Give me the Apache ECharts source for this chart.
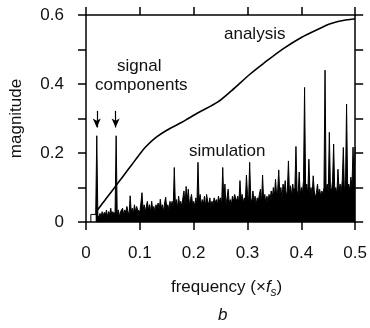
<!DOCTYPE html>
<html>
<head>
<meta charset="utf-8">
<script src="https://cdn.jsdelivr.net/npm/echarts@6/dist/echarts.min.js"></script>
<style>
html,body{margin:0;padding:0;background:#fff;}
#chart{width:370px;height:328px;}
</style>
</head>
<body>
<div id="chart"></div>
<script>
// ---- data ----
var xTicks = [0, 0.1, 0.2, 0.3, 0.4, 0.5];
var yTicks = [0, 0.2, 0.4, 0.6];

// analysis curve
var analysisFreq = [0.019, 0.03, 0.04, 0.055, 0.07, 0.085, 0.1, 0.111, 0.13, 0.15, 0.178, 0.19, 0.21, 0.245, 0.27, 0.305, 0.33, 0.366, 0.4, 0.437, 0.451, 0.47, 0.5];
var analysisMag  = [0.03, 0.053, 0.073, 0.104, 0.135, 0.166, 0.197, 0.218, 0.245, 0.266, 0.289, 0.300, 0.318, 0.348, 0.38, 0.429, 0.46, 0.502, 0.535, 0.563, 0.573, 0.582, 0.589];

// simulation spectrum: bins from 0.018 to 0.5, step 0.002
var simFreqStart = 0.018;
var simFreqStep = 0.002;
var simMag = [
  0.02, 0.25, 0.02, 0.012, 0.025, 0.015, 0.03, 0.018, 0.028, 0.02,
  0.035, 0.015, 0.03, 0.022, 0.04, 0.018, 0.03, 0.02, 0.03, 0.25,
  0.02, 0.035, 0.015, 0.03, 0.025, 0.04, 0.02, 0.035, 0.028, 0.045,
  0.03, 0.02, 0.076, 0.03, 0.04, 0.025, 0.05, 0.03, 0.045, 0.035,
  0.04, 0.03, 0.055, 0.085, 0.035, 0.05, 0.03, 0.045, 0.06, 0.035,
  0.05, 0.03, 0.06, 0.035, 0.045, 0.03, 0.05, 0.04, 0.055, 0.035,
  0.066, 0.04, 0.05, 0.03, 0.055, 0.072, 0.04, 0.05, 0.035, 0.06,
  0.045, 0.06, 0.04, 0.158, 0.05, 0.065, 0.04, 0.075, 0.05, 0.06,
  0.045, 0.07, 0.09, 0.05, 0.103, 0.06, 0.095, 0.05, 0.065, 0.08,
  0.05, 0.06, 0.045, 0.07, 0.05, 0.173, 0.06, 0.08, 0.05, 0.065,
  0.05, 0.075, 0.045, 0.08, 0.06, 0.05, 0.07, 0.045, 0.06, 0.05,
  0.07, 0.055, 0.065, 0.05, 0.075, 0.06, 0.07, 0.05, 0.158, 0.06,
  0.11, 0.05, 0.07, 0.095, 0.055, 0.065, 0.05, 0.075, 0.06, 0.08,
  0.07, 0.06, 0.075, 0.055, 0.12, 0.065, 0.08, 0.055, 0.07, 0.06,
  0.136, 0.08, 0.06, 0.173, 0.07, 0.055, 0.09, 0.06, 0.075, 0.05,
  0.07, 0.06, 0.08, 0.095, 0.055, 0.136, 0.06, 0.08, 0.055, 0.075,
  0.06, 0.08, 0.065, 0.09, 0.07, 0.1, 0.075, 0.124, 0.08, 0.09,
  0.151, 0.08, 0.1, 0.07, 0.11, 0.085, 0.12, 0.075, 0.09, 0.177,
  0.08, 0.105, 0.075, 0.11, 0.085, 0.1, 0.219, 0.09, 0.08, 0.145,
  0.08, 0.1, 0.085, 0.12, 0.39, 0.09, 0.11, 0.08, 0.182, 0.085,
  0.1, 0.075, 0.134, 0.09, 0.07, 0.085, 0.11, 0.08, 0.095, 0.075,
  0.09, 0.08, 0.1, 0.44, 0.09, 0.11, 0.085, 0.26, 0.1, 0.09,
  0.12, 0.226, 0.09, 0.1, 0.08, 0.153, 0.09, 0.11, 0.085, 0.12,
  0.216, 0.09, 0.11, 0.342, 0.1, 0.11, 0.09, 0.13, 0.1, 0.217,
  0.12, 0.217
];
// small step at the start of the simulated spectrum
var simLowFreq = [0.009, 0.009, 0.018];
var simLowMag  = [0, 0.022, 0.022];

// arrows marking the signal components
var componentFreq = [0.02, 0.055];
var arrowTop = 0.322;
var arrowBottom = 0.274;

// ---- build ----
var analysisData = analysisFreq.map(function(f, i){ return [f, analysisMag[i]]; });
var simData = simMag.map(function(m, i){ return [+(simFreqStart + i * simFreqStep).toFixed(4), m]; });
var simLowData = simLowFreq.map(function(f, i){ return [f, simLowMag[i]]; });
var arrowLines = componentFreq.map(function(f){
  return [{coord:[f, arrowTop], symbol:'none'}, {coord:[f, arrowBottom], symbol:'arrow'}];
});

var FONT = '"Liberation Sans", Arial, Helvetica, sans-serif';
var FS = 17;
var axisLineStyle = {color:'#000', width:1.5};
var tickStyle = {color:'#000', width:1.5};

var chart = echarts.init(document.getElementById('chart'), null, {renderer:'canvas'});
chart.setOption({
  animation:false,
  backgroundColor:'#fff',
  grid:{left:86, right:10, top:15, bottom:106},
  xAxis:[{
    type:'value', min:xTicks[0], max:xTicks[xTicks.length-1], interval:0.1,
    axisLine:{show:true, onZero:false, lineStyle:axisLineStyle},
    axisTick:{show:true, length:8, lineStyle:tickStyle},
    splitLine:{show:false},
    axisLabel:{fontSize:FS, color:'#111', fontFamily:FONT, margin:23,
      formatter:function(v){ return String(+v.toFixed(1)); }},
    name:'frequency (×{i|f}{s|s})', nameLocation:'middle', nameGap:53,
    nameTextStyle:{fontSize:FS, color:'#111', fontFamily:FONT, padding:[0,0,0,12],
      rich:{i:{fontSize:FS, fontStyle:'italic', fontFamily:FONT, color:'#111'},
            s:{fontSize:12, fontStyle:'italic', fontFamily:FONT, color:'#111', padding:[12,0,0,0]}}}
  },{
    type:'value', position:'top', min:xTicks[0], max:xTicks[xTicks.length-1], interval:0.1,
    axisLine:{show:true, onZero:false, lineStyle:axisLineStyle},
    axisTick:{show:true, length:8, lineStyle:tickStyle},
    splitLine:{show:false}, axisLabel:{show:false}
  }],
  yAxis:[{
    type:'value', min:yTicks[0], max:yTicks[yTicks.length-1], interval:0.2,
    axisLine:{show:true, onZero:false, lineStyle:axisLineStyle},
    axisTick:{show:true, length:8, lineStyle:tickStyle},
    minorTick:{show:true, splitNumber:2, length:8, lineStyle:tickStyle},
    splitLine:{show:false},
    axisLabel:{fontSize:FS, color:'#111', fontFamily:FONT, margin:22,
      formatter:function(v){ return String(+v.toFixed(1)); }},
    name:'magnitude', nameLocation:'middle', nameGap:61,
    nameTextStyle:{fontSize:FS, color:'#111', fontFamily:FONT}
  },{
    type:'value', position:'right', min:yTicks[0], max:yTicks[yTicks.length-1], interval:0.2,
    axisLine:{show:true, onZero:false, lineStyle:axisLineStyle},
    axisTick:{show:true, length:8, lineStyle:tickStyle},
    minorTick:{show:true, splitNumber:2, length:8, lineStyle:tickStyle},
    splitLine:{show:false}, axisLabel:{show:false}
  }],
  series:[{
    name:'simulation', type:'line', data:simData, showSymbol:false, symbol:'none',
    lineStyle:{color:'#000', width:1}, areaStyle:{color:'#000', opacity:1},
    z:2,
    markLine:{silent:true, symbolSize:[6,9], label:{show:false},
      lineStyle:{color:'#000', width:1.2, type:'solid'}, data:arrowLines}
  },{
    name:'simLow', type:'line', data:simLowData, showSymbol:false, symbol:'none',
    lineStyle:{color:'#000', width:1}, z:2
  },{
    name:'analysis', type:'line', data:analysisData, showSymbol:false, symbol:'none',
    smooth:0.3, lineStyle:{color:'#000', width:1.6}, z:3
  }],
  graphic:[
    {type:'text', left:224, top:26, style:{text:'analysis', font:FS + 'px ' + FONT, fill:'#111'}},
    {type:'text', left:117, top:58, style:{text:'signal', font:FS + 'px ' + FONT, fill:'#111'}},
    {type:'text', left:95, top:77, style:{text:'components', font:FS + 'px ' + FONT, fill:'#111'}},
    {type:'text', left:189, top:143, style:{text:'simulation', font:FS + 'px ' + FONT, fill:'#111'}},
    {type:'text', left:218, top:307, style:{text:'b', font:'italic ' + FS + 'px ' + FONT, fill:'#111'}}
  ]
});
</script>
</body>
</html>
